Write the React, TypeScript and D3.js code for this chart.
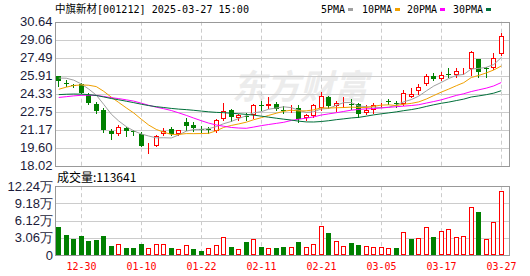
import React from "react";
import * as d3 from "d3";

const dates = ["12-25","12-26","12-27","12-30","12-31","01-02","01-03","01-06","01-07","01-08","01-09","01-10","01-13","01-14","01-15","01-16","01-17","01-20","01-21","01-22","01-23","01-24","01-27","02-05","02-06","02-07","02-10","02-11","02-12","02-13","02-14","02-17","02-18","02-19","02-20","02-21","02-24","02-25","02-26","02-27","02-28","03-03","03-04","03-05","03-06","03-07","03-10","03-11","03-12","03-13","03-14","03-17","03-18","03-19","03-20","03-21","03-24","03-25","03-26","03-27"];
const opens = [25.88,25.31,25.09,25.14,24.22,23.43,22.94,21.10,20.80,21.30,21.02,20.84,19.85,19.79,20.84,21.24,20.80,21.88,21.62,21.20,21.22,21.02,22.09,22.90,22.24,22.40,22.46,23.31,23.25,23.45,22.94,22.86,23.08,22.16,22.38,23.05,24.07,23.21,23.56,23.44,23.40,22.64,22.90,23.30,23.65,23.51,23.47,24.08,24.58,25.14,25.90,25.59,26.06,26.01,26.27,26.49,27.35,26.54,26.54,27.78];
const highs = [25.92,25.53,25.22,25.27,24.39,23.56,23.08,21.28,21.63,21.37,21.19,20.93,19.97,20.67,21.32,21.37,21.19,22.20,21.81,21.50,21.45,22.07,23.51,22.99,22.55,22.62,23.43,23.65,24.00,23.58,23.25,23.34,23.34,22.59,23.43,24.52,24.17,23.73,24.04,23.87,23.51,23.34,23.49,23.51,23.84,23.72,24.65,24.79,25.18,26.10,26.17,26.23,26.56,26.58,26.56,28.10,27.41,26.70,27.94,29.69];
const lows = [25.00,25.00,24.92,24.39,23.47,22.61,20.93,20.36,20.71,20.58,20.74,19.75,19.13,19.75,20.75,20.71,20.75,21.15,21.06,20.97,20.90,20.97,22.03,21.94,22.03,22.03,22.24,22.94,23.08,22.90,22.64,22.73,21.85,22.03,22.29,22.90,23.08,22.81,23.16,23.03,22.32,22.55,22.68,23.16,23.43,23.19,23.38,24.00,24.30,25.05,25.53,25.53,25.75,25.82,26.06,25.97,25.79,25.79,26.49,27.72];
const closes = [25.44,25.24,25.05,24.43,23.51,22.81,21.15,20.80,21.41,21.06,20.95,19.79,19.89,20.62,21.10,20.84,21.15,21.53,21.36,21.14,21.17,22.03,22.81,22.33,22.46,22.35,23.34,23.27,23.43,22.99,22.88,22.99,22.11,22.46,23.30,24.10,23.21,23.51,23.62,23.38,22.52,22.94,23.31,23.38,23.59,23.45,24.36,24.28,24.92,25.85,25.60,25.94,25.99,26.28,26.30,27.96,26.19,26.48,27.50,29.36];
const volumes = [50350,35580,28460,33800,24900,26700,34300,16000,19000,13000,13000,19600,11900,19600,19600,13000,10100,17800,10700,7100,11900,17800,31500,14200,10100,23700,27900,14200,11900,12500,14200,13700,23700,13700,19600,51600,39700,24900,16000,21900,17800,16000,13700,13700,11900,12500,40400,28500,29700,49300,32000,42200,45700,31500,33800,84900,76000,27900,59200,113641];
// estimated closes of the 29 sessions before 12-25 (needed for the moving averages)
const priorCloses = [24.3,24.5,24.7,24.73,25.1,25.0,24.9,24.8,24.77,24.7,23.9,23.6,23.45,23.28,23.2,23.0,22.9,23.1,23.17,23.2,23.4,23.6,23.92,23.8,23.98,25.3,25.9,26.1,25.76];

const priceTicks = [18.02,19.60,21.17,22.75,24.33,25.91,27.49,29.06,30.64];
const volTicks = [0,30600,61200,91800,122400];
const volTickLabels = ["0","3.06万","6.12万","9.18万","12.24万"];
const dateLabels = ["12-30","01-10","01-22","02-11","02-21","03-05","03-17","03-27"];
const maPeriods = [5,10,20,30];
const maNames = ["5PMA","10PMA","20PMA","30PMA"];
const maColors = ["#a0a0a0","#f0a000","#ff00ff","#006f3a"];

const RED = "#ff0000";
const GREEN = "#008000";

export default function App() {
  const W = 530, H = 276;
  const L = 55, R = 509;
  const pTop = 21.7, pBot = 165.7;
  const vTop = 186.2, vBot = 255;

  const x = d3.scaleBand<string>().domain(dates).range([55, 505]).paddingInner(0.34).paddingOuter(0.17);
  const y = d3.scaleLinear().domain([18.02, 30.64]).range([pBot, pTop]);
  const yv = d3.scaleLinear().domain([0, 122400]).range([vBot, vTop]);
  const center = (d: string) => (x(d) as number) + x.bandwidth() / 2;
  const col = (d: string) => Math.floor(center(d));

  const all = [...priorCloses, ...closes];
  const np = priorCloses.length;
  const mas = maPeriods.map((n) =>
    closes.map((_, i) => d3.mean(all.slice(np + i - n + 1, np + i + 1)) as number)
  );
  const line = d3.line<number>().x((_, i) => center(dates[i])).y((v) => y(v));

  const labelFont = "'Liberation Sans', Arial, sans-serif";
  const monoFont = "'DejaVu Sans Mono', monospace";
  const cjkFont = "'Noto Sans CJK SC', sans-serif";

  const legendX = [321, 362, 407, 453];
  const legendW = [24, 30, 30, 30];

  return (
    <svg width={W} height={H} style={{ position: "absolute", left: 0, top: 0, background: "#fff" }}>
      {/* watermark */}
      <text x={232} y={99} fontFamily={cjkFont} fontSize={34} fontWeight={700} fill="#ececec" fontStyle="italic">东方财富</text>

      {/* horizontal price grid */}
      {priceTicks.map((t, i) => (
        <line key={"hg" + i} x1={L} x2={R} y1={Math.round(y(t)) + 0.5} y2={Math.round(y(t)) + 0.5} stroke="#cccccc" />
      ))}
      {volTicks.map((t, i) => (
        <line key={"vg" + i} x1={L} x2={R} y1={Math.round(yv(t)) + 0.5} y2={Math.round(yv(t)) + 0.5} stroke="#cccccc" />
      ))}
      {/* vertical dashed grid */}
      {dateLabels.map((d) => (
        <g key={"vd" + d}>
          <line x1={col(d) + 0.5} x2={col(d) + 0.5} y1={pTop} y2={pBot} stroke="#cccccc" strokeDasharray="4,3" />
          <line x1={col(d) + 0.5} x2={col(d) + 0.5} y1={vTop} y2={vBot} stroke="#cccccc" strokeDasharray="4,3" />
        </g>
      ))}

      {/* frames */}
      <rect x={L + 0.5} y={Math.round(pTop) + 0.5} width={R - L} height={Math.round(pBot) - Math.round(pTop)} fill="none" stroke="#999999" />
      <rect x={L + 0.5} y={Math.round(vTop) + 0.5} width={R - L} height={vBot - Math.round(vTop)} fill="none" stroke="#999999" />

      {/* candles */}
      {dates.map((d, i) => {
        const c = col(d);
        const up = closes[i] >= opens[i];
        const color = up ? RED : GREEN;
        const yo = y(opens[i]), yc = y(closes[i]);
        const top = Math.round(Math.min(yo, yc));
        const bot = Math.max(Math.round(Math.max(yo, yc)), top + 1);
        const yh = Math.round(y(highs[i])), yl = Math.round(y(lows[i]));
        return (
          <g key={"c" + i}>
            <line x1={c + 0.5} x2={c + 0.5} y1={yh} y2={yl + 1} stroke={color} />
            {up ? (
              <rect x={c - 2 + 0.5} y={top + 0.5} width={4} height={Math.max(bot - top - 1, 0)} fill="#fff" stroke={color} />
            ) : (
              <rect x={c - 2} y={top} width={5} height={Math.max(bot - top, 1)} fill={color} />
            )}
          </g>
        );
      })}

      {/* moving averages */}
      {mas.map((m, k) => (
        <path key={"ma" + k} d={line(m) as string} fill="none" stroke={maColors[k]} strokeWidth={1} />
      ))}

      {/* volume bars */}
      {dates.map((d, i) => {
        const c = col(d);
        const prev = all[np + i - 1];
        const up = closes[i] >= prev;
        const color = up ? RED : GREEN;
        const top = Math.round(yv(volumes[i]));
        return up ? (
          <rect key={"v" + i} x={c - 2 + 0.5} y={top + 0.5} width={4} height={vBot - top - 1} fill="#fff" stroke={color} />
        ) : (
          <rect key={"v" + i} x={c - 2} y={top} width={5} height={vBot - top} fill={color} />
        );
      })}

      {/* y labels price */}
      {priceTicks.map((t, i) => (
        <text key={"pl" + i} x={52.5} y={y(t) + 4.5} textAnchor="end" fontFamily={labelFont} fontSize={13} fill="#1b1b3a">
          {t.toFixed(2)}
        </text>
      ))}
      {/* y labels volume */}
      {volTicks.map((t, i) => (
        <text key={"vl" + i} x={53} y={yv(t) + 4.5} textAnchor="end" fontFamily={labelFont} fontSize={13} fill="#1b1b3a">
          {volTickLabels[i]}
        </text>
      ))}

      {/* x labels */}
      {dateLabels.map((d) => (
        <text key={"xl" + d} x={col(d) + 0.5} y={270} textAnchor="middle" fontFamily={monoFont} fontSize={11} fill={RED} textLength={30} lengthAdjust="spacingAndGlyphs">
          {d}
        </text>
      ))}

      {/* title */}
      <text x={55} y={13} fontFamily={cjkFont} fontSize={11} fill="#000" textLength={42} lengthAdjust="spacingAndGlyphs">中旗新材</text>
      <text x={97} y={13} fontFamily={monoFont} fontSize={11} fill="#000" textLength={152} lengthAdjust="spacingAndGlyphs">[001212] 2025-03-27 15:00</text>

      {/* legend */}
      {maNames.map((n, k) => (
        <g key={"lg" + k}>
          <text x={legendX[k]} y={13} fontFamily={monoFont} fontSize={11} fill="#000" textLength={legendW[k]} lengthAdjust="spacingAndGlyphs">{n}</text>
          <rect x={legendX[k] + legendW[k] + 3} y={8} width={5} height={3} fill={maColors[k]} />
        </g>
      ))}

      {/* volume title */}
      <text x={57} y={182} fontFamily={cjkFont} fontSize={12} fill="#000">成交量:{volumes[volumes.length - 1]}</text>
    </svg>
  );
}
